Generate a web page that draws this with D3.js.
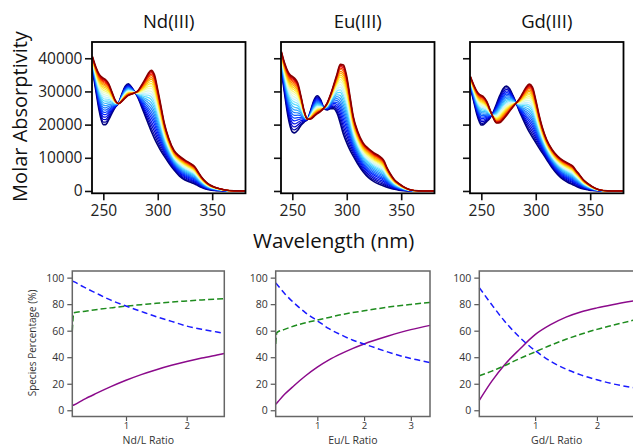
<!DOCTYPE html>
<html><head><meta charset="utf-8">
<script src="https://cdn.jsdelivr.net/npm/d3@7"></script>
<style>body{margin:0;background:#fff}svg{display:block}text{font-family:"Open Sans",sans-serif}</style>
</head><body><svg id="c" width="633" height="447"></svg>
<script>
// ---------- spectra data ----------
const wavelengths = [240,243,246,248,250,252,255,258,261,264,267,270,273,276,279,282,285,288,291,294,297,300,303,306,310,315,320,325,330,334,337,340,344,348,352,357,362,370,380];
const ndFree  = [36500,30500,24500,21500,20000,20000,21500,23500,25200,26500,29200,31500,32300,31300,29800,28000,25500,23000,20500,18000,15800,13800,12000,10500,8500,6300,4500,3300,2600,2100,1600,1100,600,300,150,50,0,0,0];
const ndBound = [40500,37500,35300,34500,34000,33600,32300,29800,27300,26300,27000,28000,28800,29200,29600,30300,31800,33500,35300,36400,35000,30500,25500,20500,16000,12200,10500,9300,8300,7300,5800,4300,2800,1800,1200,700,300,50,0];
const euFree  = [36000,29000,22500,19500,17800,17500,18300,19800,20800,21600,24500,27500,28700,27500,25000,24400,24800,24800,23500,20500,17000,14500,12300,10500,8200,5800,4000,2800,2000,1500,1100,800,500,250,100,0,0,0,0];
const euBound = [42000,38500,36000,35000,34500,34000,32500,28500,24000,21600,21700,22500,23300,24000,25000,26500,29000,32000,35200,38200,38000,34500,28500,22500,18000,14500,12800,11500,10500,9200,7000,5200,3300,2200,1300,500,150,0,0];
const gdFree  = [31000,27000,23000,21000,19900,20000,20900,22000,23800,26300,28800,30800,31600,30800,28800,26500,24000,21800,19700,17800,16200,14600,13000,11500,9500,7000,5000,3500,2500,1900,1400,1000,600,350,150,50,0,0,0];
const gdBound = [34500,32000,30000,29200,28800,28400,27000,24500,22000,20500,20600,21500,22700,24000,25300,26500,27800,29500,31200,32200,31300,27500,23000,19200,15500,12500,10500,9200,8300,7500,6200,5000,3300,2200,1300,500,150,0,0];
// fraction of bound species at each titration step (one spectrum per step)
const titrationFractions = [0,0.055,0.11,0.165,0.22,0.27,0.32,0.37,0.42,0.47,0.52,0.565,0.61,0.655,0.70,0.74,0.78,0.815,0.85,0.88,0.91,0.935,0.96,0.98,1];
const panelTitles = ["Nd(III)","Eu(III)","Gd(III)"];
const absTicks = [0,10000,20000,30000,40000];
const wlTicks = [250,300,350];

// ---------- speciation data ----------
const ndRatio  = [0.115,0.14,0.3,0.5,0.75,1,1.25,1.5,1.75,2,2.25,2.5,2.62];
const ndPurple = [3.5,4.0,8.0,12.5,17.8,22.6,26.9,30.6,33.9,36.8,39.4,41.7,42.8];
const ndGreen  = [60,73.5,74.5,75.8,77.2,78.5,79.6,80.7,81.6,82.4,83.2,83.9,84.2];
const ndBlue   = [97.5,97,93,88.5,83,78.6,74.5,70.5,67,63.5,61,59,58];
const euRatio  = [0.11,0.135,0.3,0.5,0.75,1,1.25,1.5,1.75,2,2.5,3,3.41];
const euPurple = [4.5,5.5,12,18.5,26,32.5,38,42.5,46.5,50,55.8,60.8,64];
const euGreen  = [50,58.5,61,63.5,66,68,70,72,73.6,75,77.7,79.8,81.3];
const euBlue   = [96,95,88,81,73.5,67.5,61.5,57,53,50,44,39,36];
const gdRatio  = [0.097,0.3,0.5,0.75,1,1.25,1.5,1.75,2,2.25,2.6];
const gdPurple = [7.5,22,34,46,57,64.5,70.2,74.3,77.2,79.6,82.5];
const gdGreen  = [26,29.5,33.5,39,44,49,53.5,57.5,61,64,68];
const gdBlue   = [92.5,79.5,67.5,55,45,37,31,26.5,23,20,17];
const ratioLabels = ["Nd/L Ratio","Eu/L Ratio","Gd/L Ratio"];
const ratioTicks = [[1,2],[1,2,3],[1,2]];
const pctTicks = [0,20,40,60,80,100];

// ---------- drawing ----------
const svg = d3.select("#c");
const spectra = [[ndFree,ndBound],[euFree,euBound],[gdFree,gdBound]];
const cmap = d3.piecewise(d3.interpolateRgb, ["#00007a","#0000c8","#0020ff","#1060ff","#2aa0ff","#50dcff","#c8f4ff","#f0ffc0","#ffee30","#ffb000","#ff6400","#e80000","#8a0000"]);
const topLeft = [92,281,470], topW = 153.5, topY = 42, topH = 151.3;

spectra.forEach((sp,p)=>{
  const x = d3.scaleLinear().domain([239.6,380.6]).range([topLeft[p], topLeft[p]+topW]);
  const y = d3.scaleLinear().domain([-700,44900]).range([topY+topH, topY]);
  const g = svg.append("g");
  const clipId = "clipT"+p;
  svg.append("clipPath").attr("id",clipId).append("rect").attr("x",topLeft[p]).attr("y",topY).attr("width",topW).attr("height",topH);
  const line = d3.line().x(d=>x(d[0])).y(d=>y(d[1])).curve(d3.curveMonotoneX);
  const n = titrationFractions.length;
  titrationFractions.forEach((f,i)=>{
    const pts = wavelengths.map((w,k)=>[w, sp[0][k] + f*(sp[1][k]-sp[0][k])]);
    g.append("path").attr("d",line(pts)).attr("fill","none")
      .attr("stroke",cmap(i/(n-1))).attr("stroke-width", (i===0||i===n-1)?1.6:1.2)
      .attr("clip-path","url(#"+clipId+")");
  });
  const ya = g.append("g").attr("transform",`translate(${topLeft[p]},0)`)
    .call(d3.axisLeft(y).tickValues(absTicks).tickSize(7).tickPadding(2.5).tickFormat(p===0?d3.format("d"):()=>""));
  const xa = g.append("g").attr("transform",`translate(0,${topY+topH})`)
    .call(d3.axisBottom(x).tickValues(wlTicks).tickSize(7).tickPadding(5));
  [ya,xa].forEach(a=>{a.select(".domain").remove();a.selectAll("line").attr("stroke","#111").attr("stroke-width",1.6);
    a.selectAll("text").attr("fill","#222").style("font-size","15.5px").style("font-family","'Open Sans',sans-serif");});
  g.append("rect").attr("x",topLeft[p]).attr("y",topY).attr("width",topW).attr("height",topH)
    .attr("fill","none").attr("stroke","#000").attr("stroke-width",1.8);
  g.append("text").attr("x",topLeft[p]+topW/2).attr("y",27.5).attr("text-anchor","middle")
    .style("font-size","18.5px").attr("fill","#111").text(panelTitles[p]);
});
svg.append("text").attr("transform","translate(27,116.5) rotate(-90)").attr("text-anchor","middle")
  .style("font-size","20px").attr("fill","#111").text("Molar Absorptivity");
svg.append("text").attr("x",253).attr("y",248).attr("text-anchor","start")
  .style("font-size","20.5px").attr("fill","#111").text("Wavelength (nm)");

// bottom panels
const specData = [[ndRatio,ndPurple,ndGreen,ndBlue],[euRatio,euPurple,euGreen,euBlue],[gdRatio,gdPurple,gdGreen,gdBlue]];
const botLeft = [72.3,275.7,479.3], botW = [152,154.3,154.7], botDom = [[0.115,2.62],[0.11,3.41],[0.097,2.6]];
const botY = 271, botH = 145.5;
const styles = [{c:"#8b0a8b",d:null},{c:"#1e8c1e",d:"6,3"},{c:"#1a1aff",d:"6,3.5"}];
specData.forEach((sd,p)=>{
  const x = d3.scaleLinear().domain(botDom[p]).range([botLeft[p], botLeft[p]+botW[p]]);
  const y = d3.scaleLinear().domain([-4.7,105]).range([botY+botH, botY]);
  const g = svg.append("g");
  const line = d3.line().x(d=>x(d[0])).y(d=>y(d[1])).curve(d3.curveMonotoneX);
  [1,2,3].forEach((s,si)=>{
    const pts = sd[0].map((r,k)=>[r, sd[s][k]]);
    g.append("path").attr("d",line(pts)).attr("fill","none").attr("stroke",styles[si].c)
      .attr("stroke-width",1.5).attr("stroke-dasharray",styles[si].d);
  });
  const ya = g.append("g").attr("transform",`translate(${botLeft[p]},0)`)
    .call(d3.axisLeft(y).tickValues(pctTicks).tickSize(5).tickPadding(3).tickFormat(d3.format("d")));
  const xa = g.append("g").attr("transform",`translate(0,${botY+botH})`)
    .call(d3.axisBottom(x).tickValues(ratioTicks[p]).tickSize(4.5).tickPadding(1.5).tickFormat(d3.format("d")));
  [ya,xa].forEach(a=>{a.select(".domain").remove();a.selectAll("line").attr("stroke","#555").attr("stroke-width",1.2);
    a.selectAll("text").attr("fill","#333").style("font-size","10.5px").style("font-family","'Open Sans',sans-serif");});
  xa.selectAll("text").style("font-size","9.5px");
  g.append("rect").attr("x",botLeft[p]).attr("y",botY).attr("width",botW[p]).attr("height",botH)
    .attr("fill","none").attr("stroke","#666").attr("stroke-width",1.5);
  g.append("text").attr("x",botLeft[p]+botW[p]/2).attr("y",443.6).attr("text-anchor","middle")
    .style("font-size","10.5px").attr("fill","#333").text(ratioLabels[p]);
});
svg.append("text").attr("transform","translate(36,343) rotate(-90)").attr("text-anchor","middle")
  .style("font-size","10px").attr("fill","#333").text("Species Percentage (%)");
</script></body></html>
